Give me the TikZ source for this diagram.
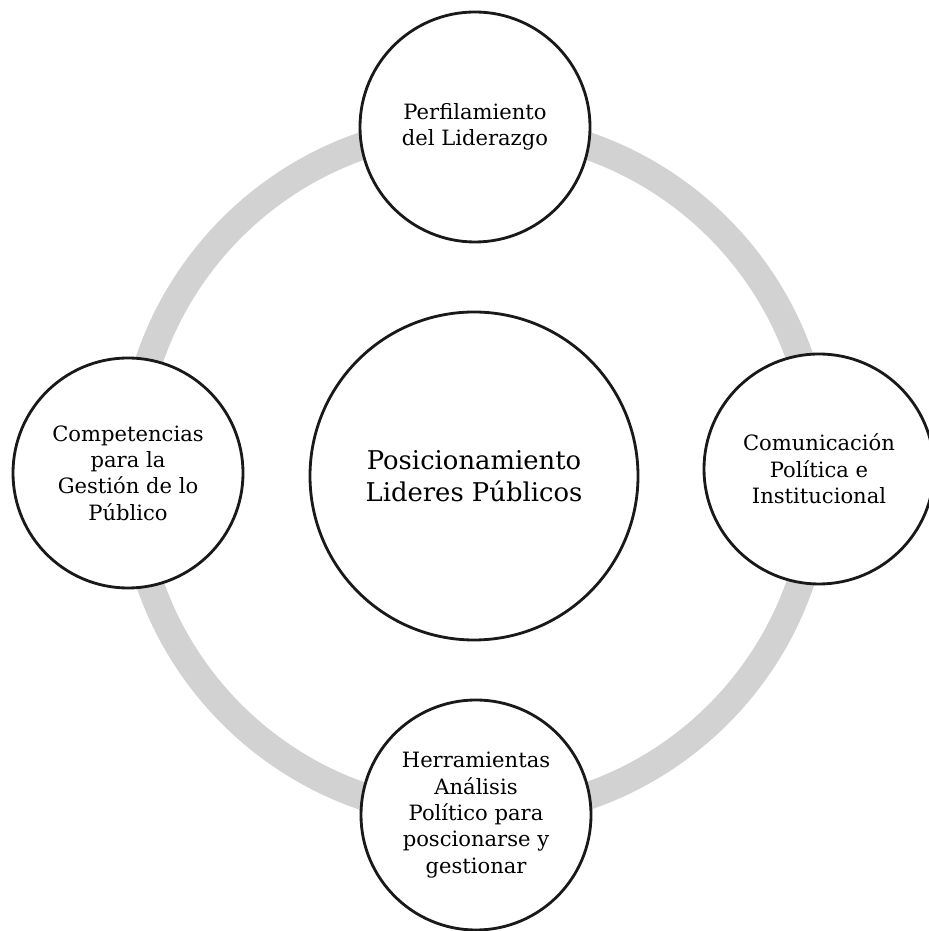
\documentclass[tikz,border=0pt]{standalone}
\usepackage{fontspec}
\setmainfont{DejaVu Serif}
\usepackage{xcolor}
\definecolor{RingGray}{RGB}{210,210,210}
\definecolor{CircleBorder}{RGB}{25,25,25}
\usepackage{tikz}
\usetikzlibrary{positioning}
\tikzset{
  % Central topic
  hub/.style={
    circle,
    draw=CircleBorder,
    fill=white,
    line width=1.6pt,
    minimum size=6.56cm,
    inner sep=0pt,
    align=center,
    font=\fontsize{14.7}{18}\selectfont
  },
  % Satellite topic
  satellite/.style={
    circle,
    draw=CircleBorder,
    fill=white,
    line width=1.6pt,
    minimum size=4.6cm,
    inner sep=0pt,
    align=center,
    font=\fontsize{12}{15}\selectfont
  },
  % Background ring
  ring/.style={
    draw=RingGray,
    line width=0.55cm
  }
}
\begin{document}
\begin{tikzpicture}
  \useasboundingbox (0,0) rectangle (18.56,18.62);
  % Ring behind the satellites
  \coordinate (mid) at (9.5,9.2);
  \draw[ring] (mid) circle (6.88cm);
  % Centre
  \node[hub] (pos) at (9.48,9.10) {Posicionamiento\\Lideres Públicos};
  % Satellites
  \node[satellite] (perf) at (9.50,16.08) {Perfilamiento\\del Liderazgo};
  \node[satellite] (comp) at (2.56,9.16) {Competencias\\para la\\Gestión de lo\\Público};
  \node[satellite] (comu) at (16.38,9.24) {Comunicación\\Política e\\Institucional};
  \node[satellite] (herr) at (9.52,2.32) {Herramientas\\Análisis\\Político para\\poscionarse y\\gestionar};
\end{tikzpicture}
\end{document}
